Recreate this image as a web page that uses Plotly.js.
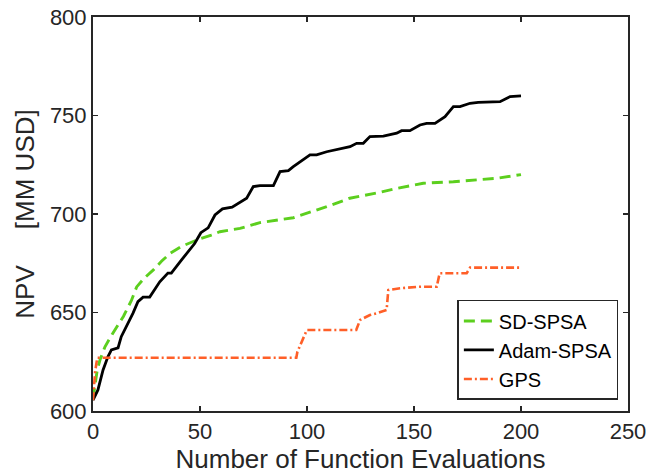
<!DOCTYPE html>
<html>
<head>
<meta charset="utf-8">
<script src="https://cdn.plot.ly/plotly-3.0.1.min.js"></script>
<style>
  html, body { margin: 0; padding: 0; background: #ffffff; }
  #chart { width: 664px; height: 476px; }
</style>
</head>
<body>
<div id="chart"></div>
<script>
// NPV history versus number of function evaluations for three optimizers
const sdSpsaEvals = [0, 1, 2, 3.3, 5.6, 9, 14.2, 17.9, 20.4, 24, 28.2, 32, 36, 41.3, 48.5, 55.3, 59.3, 68.7, 78, 93.6, 99.9, 109.2, 120, 127.9, 134.1, 141.9, 154.3, 168.4, 177.7, 188.6, 200];
const sdSpsaNpv   = [606, 614, 621, 626, 632.6, 639, 648, 656, 663, 667.5, 671.6, 676, 680, 683.5, 686.8, 689.3, 691, 692.7, 695.6, 698.1, 700.3, 703.7, 708, 709.6, 711, 713, 715.6, 716.4, 717.3, 718.1, 720];

const adamEvals = [0, 2.3, 4.7, 7, 8.6, 11.7, 13.2, 16.4, 18.7, 21, 23.4, 26.5, 31.2, 35, 36.6, 41.3, 44.4, 47.5, 50.4, 53.8, 57, 60.5, 65, 68.7, 71.8, 74.9, 78, 84.3, 87.4, 91.3, 93.6, 101.4, 104.5, 109.2, 115.4, 120.1, 123.2, 126.3, 129.4, 135.7, 138.8, 141.9, 144.2, 148.1, 152.8, 155.9, 159.8, 164.5, 168.4, 171.5, 176.2, 180, 190.2, 194.9, 200];
const adamNpv   = [605.5, 610.7, 620.8, 627.6, 631, 632, 637.7, 644.6, 649.7, 655.5, 657.8, 657.8, 665.6, 670, 670, 676.6, 681, 685, 690.5, 693, 699.5, 702.6, 703.5, 706.2, 708, 713.9, 714.4, 714.4, 721.5, 722, 724, 730, 730, 731.6, 733, 734.2, 735.9, 735.9, 739.3, 739.5, 740.3, 741, 742.3, 742.3, 745.2, 746, 746, 749.4, 754.5, 754.5, 756.2, 756.7, 757, 759.6, 760];

const gpsEvals = [0, 0.5, 1, 2, 95, 95.5, 97, 99.9, 123, 124.8, 129.4, 132.6, 137.2, 138, 143.5, 152.8, 160.6, 162, 174.6, 176.2, 200];
const gpsNpv   = [605.5, 615, 620, 627, 627, 630, 633.5, 641.1, 641.1, 646.2, 648.7, 649.6, 651.3, 661.4, 662.3, 663.1, 663.1, 669.9, 669.9, 672.8, 672.8];

const seriesNames = ['SD-SPSA', 'Adam-SPSA', 'GPS'];
const xTicks = [0, 50, 100, 150, 200, 250];
const yTicks = [600, 650, 700, 750, 800];

const FONT = 'Liberation Sans, Arial, Helvetica, sans-serif';
const AXIS_GREY = '#262626';
const NB = '\u00A0';

const traces = [
  {
    x: sdSpsaEvals, y: sdSpsaNpv, name: seriesNames[0], type: 'scatter', mode: 'lines',
    line: { color: '#5ccf1e', width: 2.9, dash: '11px,6px' }
  },
  {
    x: adamEvals, y: adamNpv, name: seriesNames[1], type: 'scatter', mode: 'lines',
    line: { color: '#000000', width: 2.8 }
  },
  {
    x: gpsEvals, y: gpsNpv, name: seriesNames[2], type: 'scatter', mode: 'lines',
    line: { color: '#ff5f28', width: 2.6, dash: '8px,3px,2px,3px' }
  }
];

const axisCommon = {
  showgrid: false, zeroline: false,
  showline: true, linecolor: AXIS_GREY, linewidth: 2,
  mirror: 'ticks', ticks: 'inside', ticklen: 5, tickwidth: 1.5, tickcolor: AXIS_GREY,
  tickfont: { family: FONT, size: 22, color: AXIS_GREY }
};

const layout = {
  width: 664, height: 476,
  margin: { l: 93, r: 36, t: 17, b: 65, pad: 0 },
  paper_bgcolor: '#ffffff', plot_bgcolor: '#ffffff',
  showlegend: true,
  legend: {
    x: 0.982, y: 0.028, xanchor: 'right', yanchor: 'bottom',
    bgcolor: '#ffffff', bordercolor: AXIS_GREY, borderwidth: 1.5,
    font: { family: FONT, size: 20, color: '#000000' },
    tracegroupgap: 0, itemwidth: 30
  },
  xaxis: Object.assign({}, axisCommon, {
    range: [0, 250], tickvals: xTicks, ticktext: xTicks.map(String),
    title: { text: 'Number of Function Evaluations', font: { family: FONT, size: 26, color: AXIS_GREY }, standoff: 2 }
  }),
  yaxis: Object.assign({}, axisCommon, {
    range: [600, 800], tickvals: yTicks, ticktext: yTicks.map(String),
    title: { text: 'NPV' + NB.repeat(5) + '[MM USD]' + NB.repeat(2), font: { family: FONT, size: 26, color: AXIS_GREY }, standoff: 8 }
  })
};

Plotly.newPlot('chart', traces, layout, { staticPlot: true, displayModeBar: false });
</script>
</body>
</html>
